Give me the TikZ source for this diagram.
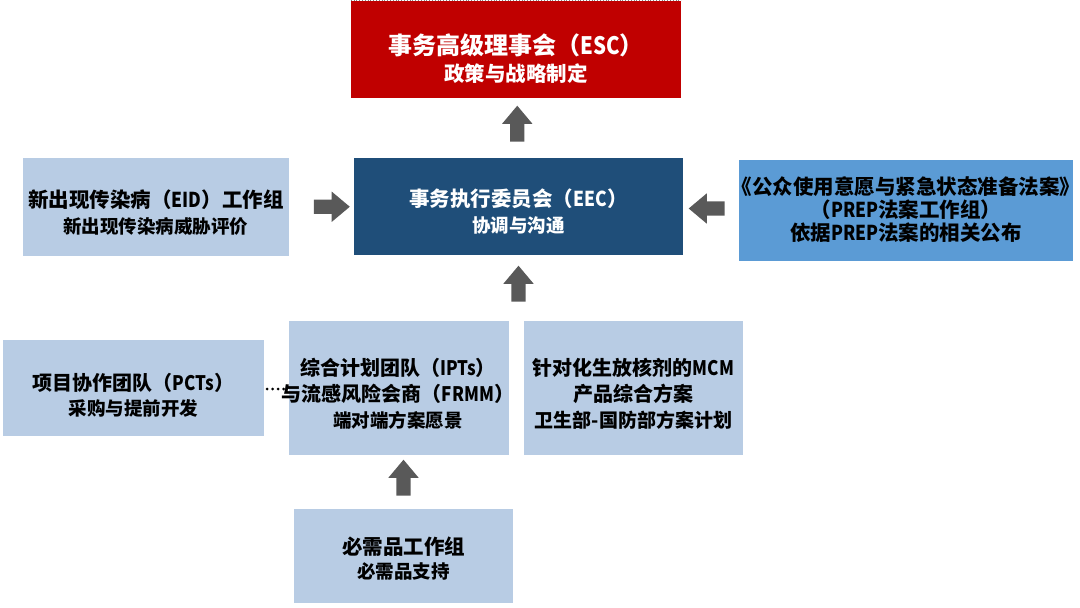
\documentclass[tikz,border=0pt]{standalone}
\usepackage{fontspec}
\setmainfont{Noto Sans CJK SC}
\newfontfamily\narw[FakeStretch=0.85]{Noto Sans CJK SC}
\usetikzlibrary{shapes.arrows,calc}
\definecolor{escred}{HTML}{C00000}
\definecolor{eecblue}{HTML}{1F4E79}
\definecolor{lightbox}{HTML}{B8CCE4}
\definecolor{prepblue}{HTML}{5B9BD5}
\definecolor{arrowgray}{HTML}{595959}
\newcommand{\nr}[1]{{\narw\bfseries #1}}
\newcommand{\tsz}[2]{\fontsize{#1}{#2}\selectfont}
\begin{document}
\begin{tikzpicture}[x=1pt,y=-1pt,
  box/.style={rectangle, inner sep=0pt},
  lbox/.style={box, fill=lightbox},
  txt/.style={inner sep=0pt, align=center},
  blockarr/.style={single arrow, fill=arrowgray, draw=none, inner xsep=0pt, inner ysep=7pt,
    minimum height=36pt, single arrow head extend=8pt, single arrow tip angle=80}
]
\useasboundingbox (0,0) rectangle (1080,608);

% boxes
\node[box, fill=escred, minimum width=330pt, minimum height=97pt] (esc) at (516,49.5) {};
\node[box, fill=eecblue, minimum width=329pt, minimum height=97pt] (eec) at (518.5,206.5) {};
\node[lbox, minimum width=266pt, minimum height=98pt] (eid) at (156,207) {};
\node[box, fill=prepblue, minimum width=334pt, minimum height=101pt] (prep) at (906,210.5) {};
\node[lbox, minimum width=261pt, minimum height=96pt] (pct) at (133.5,388) {};
\node[lbox, minimum width=220pt, minimum height=134pt] (ipt) at (399,388) {};
\node[lbox, minimum width=219pt, minimum height=134pt] (mcm) at (633.5,388) {};
\node[lbox, minimum width=219pt, minimum height=94pt] (ness) at (403.5,556) {};

% texts
\node[txt, text=white, font=\bfseries\tsz{24}{27}] (esc-t) at ($(esc)+(0,9)$)
  {\tsz{24}{27}事务高级理事会（\nr{ESC}）\\\tsz{20.5}{27}政策与战略制定};
\node[txt, text=white, font=\bfseries\tsz{20.5}{26}] (eec-t) at ($(eec)+(0,5)$)
  {\tsz{20.5}{26}事务执行委员会（\nr{EEC}）\\\tsz{18.5}{26}协调与沟通};
\node[txt, font=\bfseries\tsz{20.5}{26}] (eid-t) at ($(eid)+(0,6)$)
  {\tsz{20.5}{26}新出现传染病（\nr{EID}）工作组\\\tsz{18.5}{26}新出现传染病威胁评价};
\node[txt, font=\bfseries\tsz{20.5}{23}] (prep-t) at ($(prep)+(0,-1)$)
  {\tsz{20.5}{23}《公众使用意愿与紧急状态准备法案》\\\tsz{20.5}{23}（\nr{PREP}法案工作组）\\\tsz{20.5}{23}依据\nr{PREP}法案的相关公布};
\node[txt, font=\bfseries\tsz{20}{25}] (pct-t) at ($(pct)+(0,7)$)
  {\tsz{20}{25}项目协作团队（\nr{PCTs}）\\\tsz{18.5}{25}采购与提前开发};
\node[txt, font=\bfseries\tsz{20}{26}] (ipt-t) at ($(ipt)+(-1,6)$)
  {\tsz{20}{26}综合计划团队（\nr{IPTs}）\\\tsz{20}{26}与流感风险会商（\nr{FRMM}）\\\tsz{18.5}{26}端对端方案愿景};
\node[txt, font=\bfseries\tsz{20}{26}] (mcm-t) at ($(mcm)+(0,6)$)
  {\tsz{20}{26}针对化生放核剂的\nr{MCM}\\\tsz{20}{26}产品综合方案\\\tsz{19}{26}卫生部-国防部方案计划};
\node[txt, font=\bfseries\tsz{20.5}{24}] (ness-t) at ($(ness)+(0,3)$)
  {\tsz{20.5}{24}必需品工作组\\\tsz{18.5}{24}必需品支持};

% dotted top edge
\draw[gray, dotted, line width=0.8pt] (esc.north west) -- (esc.north east);

% block arrows
\node[blockarr, rotate=90] (a1) at ($(eec.north)!0.5!(esc.south)$) {};
\node[blockarr] (a2) at ($($(eid.east)!0.5!(eec.west)$)+(6,0)$) {};
\node[blockarr, rotate=180] (a3) at ($(eec.east)!0.5!(prep.west |- eec.east)+(0,2)$) {};
\node[blockarr, rotate=90] (a4) at ($(eec.south)!0.5!(eec.south |- ipt.north)$) {};
\node[blockarr, rotate=90] (a5) at ($(ness.north)!0.5!(ness.north |- ipt.south)$) {};

% dotted link
\coordinate (pctr) at ($(pct.east)+(3,1)$);
\coordinate (iptl) at ($(pctr -| ipt.west)+(-2,0)$);
\draw[black, line width=3pt, line cap=round, dash pattern=on 0pt off 5.5pt] (pctr) -- (iptl);
\end{tikzpicture}
\end{document}
